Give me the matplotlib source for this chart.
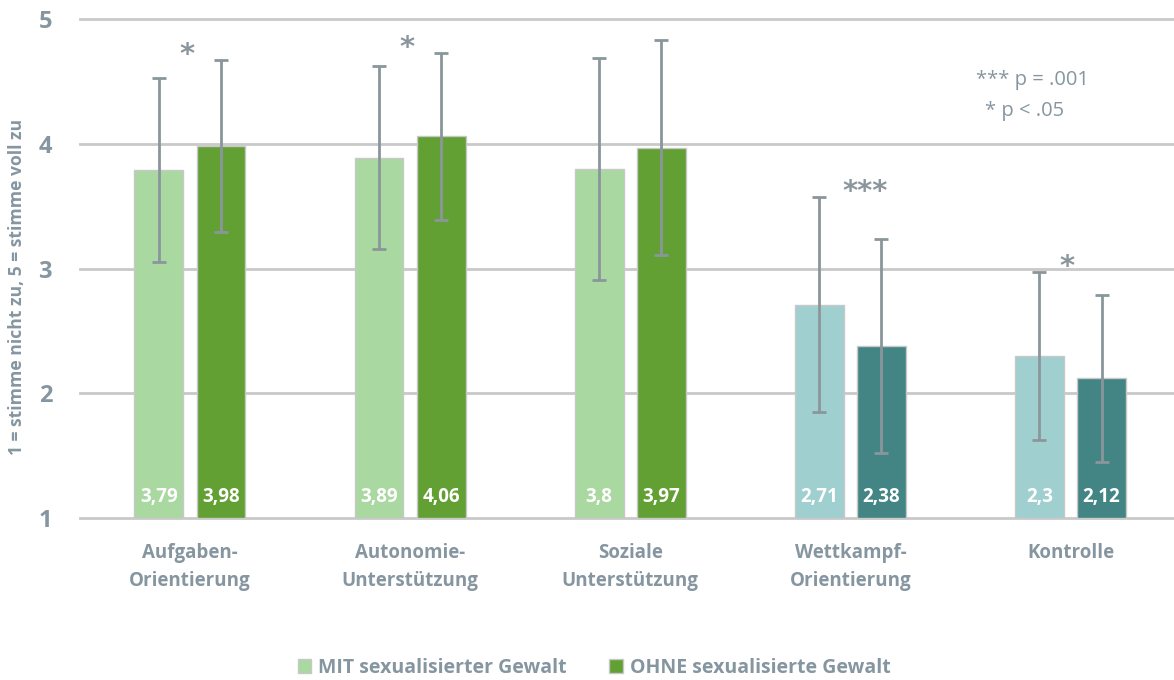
import matplotlib
matplotlib.use("Agg")
import matplotlib.pyplot as plt
import numpy as np
from matplotlib.patches import Patch

# Scale items and group means (1 = stimme nicht zu, 5 = stimme voll zu)
categories = ["Aufgaben-\nOrientierung", "Autonomie-\nUnterstützung", "Soziale\nUnterstützung",
              "Wettkampf-\nOrientierung", "Kontrolle"]
mit_means = [3.79, 3.89, 3.80, 2.71, 2.30]
ohne_means = [3.98, 4.06, 3.97, 2.38, 2.12]
mit_sd = [0.74, 0.73, 0.89, 0.86, 0.67]
ohne_sd = [0.69, 0.67, 0.86, 0.86, 0.67]
mit_labels = ["3,79", "3,89", "3,8", "2,71", "2,3"]
ohne_labels = ["3,98", "4,06", "3,97", "2,38", "2,12"]
significance = ["*", "*", "", "***", "*"]
series_names = ["MIT sexualisierter Gewalt", "OHNE sexualisierte Gewalt"]

# Colours: green for the first three scales, teal for the last two
mit_colors = ["#a9d8a0", "#a9d8a0", "#a9d8a0", "#a0cfd0", "#a0cfd0"]
ohne_colors = ["#62a034", "#62a034", "#62a034", "#428584", "#428584"]
text_gray = "#8696a0"
err_gray = "#8a969c"

plt.rcParams["font.family"] = ["Open Sans", "DejaVu Sans"]

fig = plt.figure(figsize=(11.74, 6.8), dpi=100)
ax = fig.add_axes([0.068, 0.238, 0.932, 0.734])

x = np.arange(len(categories))
w = 0.222
off = 0.141

ax.bar(x - off, np.array(mit_means) - 1, w, bottom=1, color=mit_colors,
       edgecolor="#c8c8c8", linewidth=1, zorder=2)
ax.bar(x + off, np.array(ohne_means) - 1, w, bottom=1, color=ohne_colors,
       edgecolor="#c8c8c8", linewidth=1, zorder=2)

ax.errorbar(x - off, mit_means, yerr=mit_sd, fmt="none", ecolor=err_gray,
            elinewidth=2, capsize=5, capthick=2, zorder=3)
ax.errorbar(x + off, ohne_means, yerr=ohne_sd, fmt="none", ecolor=err_gray,
            elinewidth=2, capsize=5, capthick=2, zorder=3)

# Value labels at the foot of each bar
for i in range(len(categories)):
    ax.text(x[i] - off, 1.17, mit_labels[i], ha="center", va="center",
            color="white", fontsize=13.5, fontweight="bold", zorder=4)
    ax.text(x[i] + off, 1.17, ohne_labels[i], ha="center", va="center",
            color="white", fontsize=13.5, fontweight="bold", zorder=4)

# Significance markers above each pair
for i, s in enumerate(significance):
    if not s:
        continue
    top = max(mit_means[i] + mit_sd[i], ohne_means[i] + ohne_sd[i])
    ax.text(x[i] - 0.015 + (0.08 if s == "***" else 0), top + 0.04, s,
            ha="center", va="center", color=err_gray, fontsize=21,
            family="DejaVu Sans", fontweight="bold", zorder=4)

ax.text(3.57, 4.51, "*** p = .001", color=text_gray, fontsize=14.5, ha="left", va="center")
ax.text(3.61, 4.26, "* p < .05", color=text_gray, fontsize=14.5, ha="left", va="center")

ax.set_xlim(-0.5, 4.47)
ax.set_ylim(1, 5)
ax.set_yticks([1, 2, 3, 4, 5])
ax.yaxis.grid(True, color="#c9c9c9", linewidth=2, zorder=0)
ax.set_axisbelow(True)
for sp in ax.spines.values():
    sp.set_visible(False)
ax.tick_params(axis="both", length=0)
ax.tick_params(axis="y", labelsize=17, labelcolor=text_gray, pad=20)
for lab in ax.get_yticklabels():
    lab.set_fontweight("bold")
ax.set_xticks(x)
ax.set_xticklabels(categories, fontsize=13.5, fontweight="bold", color=text_gray,
                   linespacing=1.5)
ax.tick_params(axis="x", pad=18)
for gl in ax.get_ygridlines():
    gl.set_clip_on(False)

ax.set_ylabel("1 = stimme nicht zu, 5 = stimme voll zu", fontsize=12.6,
              fontweight="bold", color=text_gray)
ax.yaxis.set_label_coords(-0.049, 0.463)

handles = [Patch(facecolor="#a9d8a0", edgecolor="#c8c8c8"),
           Patch(facecolor="#62a034", edgecolor="#c8c8c8")]
leg = fig.legend(handles, series_names, loc="center", bbox_to_anchor=(0.506, 0.018),
                 ncol=2, frameon=False, fontsize=14, handlelength=0.7, handleheight=0.7,
                 handletextpad=0.35, columnspacing=2.2)
for t in leg.get_texts():
    t.set_color(text_gray)
    t.set_fontweight("bold")

fig.savefig("out.png", dpi=100)
